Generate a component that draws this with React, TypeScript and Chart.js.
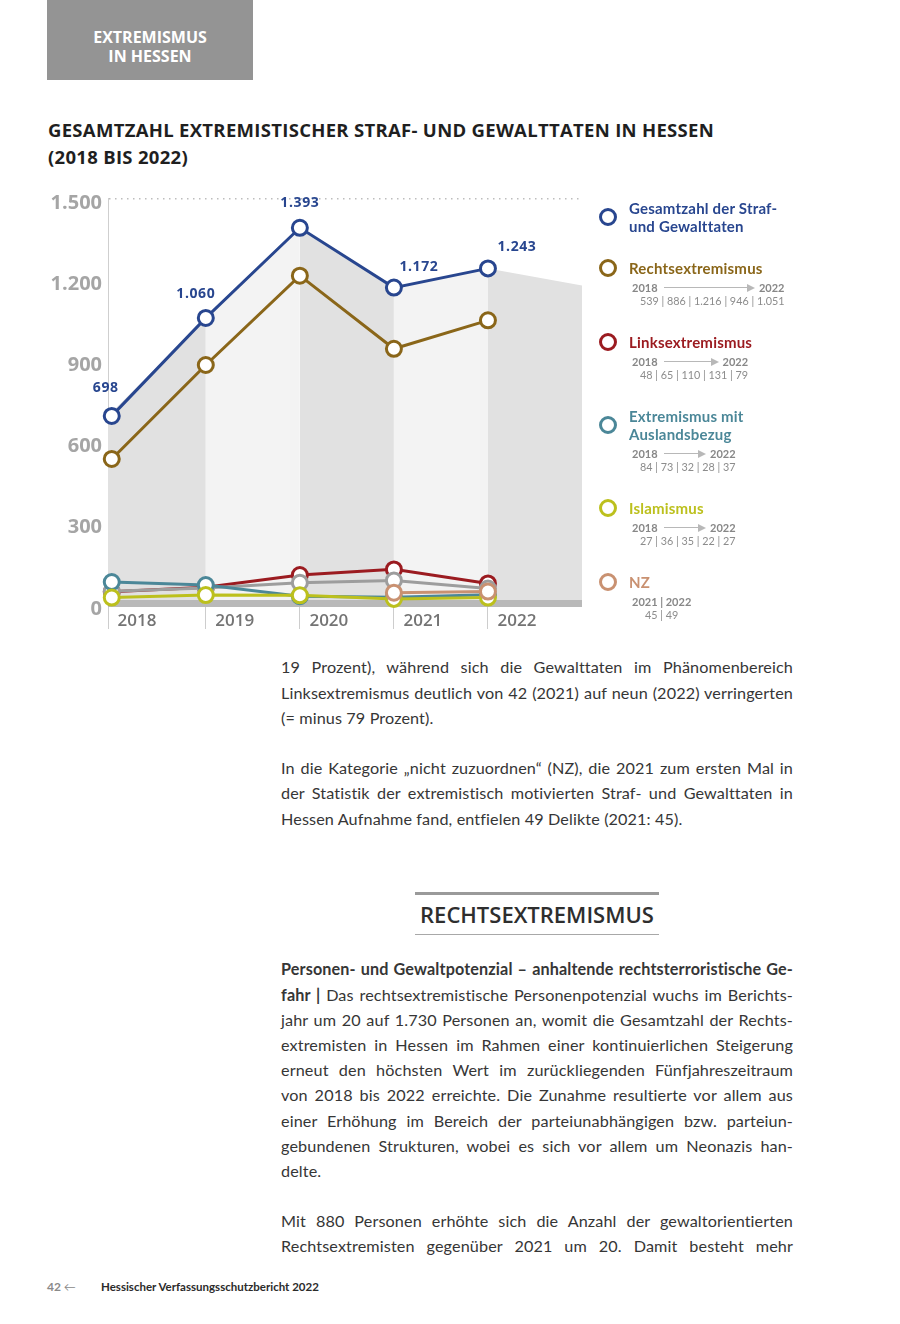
import React, { useEffect, useRef } from 'react';
import { Chart, registerables } from 'chart.js';

Chart.register(...registerables);

// ---------------- data ----------------
const years = [2018, 2019, 2020, 2021, 2022];
const yearLabels = ['2018', '2019', '2020', '2021', '2022'];
const gesamt = [698, 1060, 1393, 1172, 1243];
const rechts = [539, 886, 1216, 946, 1051];
const links = [48, 65, 110, 131, 79];
const ausland = [84, 73, 32, 28, 37];
const islamismus = [27, 36, 35, 22, 27];
const nz: (number | null)[] = [null, null, null, 45, 49];
const nzYears = ['2021', '2022'];
const nzValues = [45, 49];
const sonstige = [50, 62, 82, 90, 60];
const yTickValues = [0, 300, 600, 900, 1200, 1500];
const backdropEnd = 1180;
const baseBand = 18;

// ---------------- scale / style constants ----------------
const X_MIN = 2017.96;
const X_MAX = 2023;
const Y_MIN = -8;
const Y_MAX = 1503;

const COLORS = {
  gesamt: '#28468f',
  rechts: '#8a6619',
  links: '#9b1b20',
  ausland: '#4b8798',
  islam: '#bcc01d',
  nz: '#c99171',
  sonstige: '#9d9d9d',
};

const labelDx = [-6, -10, 0, 25, 29];
const labelDy = [-28, -24, -25, -21, -21];

const fmt = (n: number) => String(n).replace(/\B(?=(\d{3})+(?!\d))/g, '.');

const FONT_UI = '"Open Sans", "DejaVu Sans", sans-serif';
const FONT_BODY = 'Lato, "Open Sans", sans-serif';

const totalLabels = {
  id: 'totalLabels',
  afterDatasetsDraw(chart: any) {
    const idx = chart.data.datasets.findIndex((d: any) => d.label === 'Gesamtzahl der Straf- und Gewalttaten');
    if (idx < 0) return;
    const meta = chart.getDatasetMeta(idx);
    const ctx = chart.ctx;
    ctx.save();
    ctx.font = '700 14px ' + FONT_UI;
    ctx.fillStyle = COLORS.gesamt;
    ctx.textAlign = 'center';
    ctx.textBaseline = 'middle';
    try { (ctx as any).letterSpacing = '0.6px'; } catch (e) {}
    meta.data.forEach((pt: any, i: number) => {
      ctx.fillText(fmt(gesamt[i]), pt.x + labelDx[i], pt.y + labelDy[i]);
    });
    ctx.restore();
  },
};

function toXY(arr: (number | null)[]) {
  return years.map((x, i) => ({ x, y: arr[i] }));
}

function ChartCanvas() {
  const ref = useRef<HTMLCanvasElement>(null);
  useEffect(() => {
    if (!ref.current) return;
    const series = [
      { label: 'NZ', data: nz, color: COLORS.nz },
      { label: 'Islamismus', data: islamismus, color: COLORS.islam },
      { label: 'Extremismus mit Auslandsbezug', data: ausland, color: COLORS.ausland },
      { label: 'Sonstige', data: sonstige, color: COLORS.sonstige },
      { label: 'Linksextremismus', data: links, color: COLORS.links },
      { label: 'Rechtsextremismus', data: rechts, color: COLORS.rechts },
      { label: 'Gesamtzahl der Straf- und Gewalttaten', data: gesamt, color: COLORS.gesamt },
    ];
    const lineSets = series.map((s, i) => ({
      label: s.label,
      data: toXY(s.data),
      borderColor: s.color,
      backgroundColor: '#ffffff',
      borderWidth: 3,
      pointRadius: 7.5,
      pointHoverRadius: 7.5,
      pointBorderWidth: 3,
      pointBackgroundColor: '#ffffff',
      pointBorderColor: s.color,
      fill: false,
      tension: 0,
      clip: false as any,
      order: i,
    }));
    const backdropData = [
      { x: X_MIN, y: gesamt[0] },
      ...years.slice(1).map((x, i) => ({ x, y: gesamt[i + 1] })),
      { x: X_MAX, y: backdropEnd },
    ];
    const backdrop = {
      label: 'backdrop',
      data: backdropData,
      borderWidth: 0,
      borderColor: 'rgba(0,0,0,0)',
      pointRadius: 0,
      fill: 'origin',
      backgroundColor: '#e2e2e2',
      segment: {
        backgroundColor: (c: any) => (c.p0DataIndex % 2 ? '#f3f3f3' : '#e1e1e1'),
      },
      tension: 0,
      order: 100,
    };
    const band = {
      label: 'band',
      data: [
        { x: X_MIN, y: baseBand },
        { x: X_MAX, y: baseBand },
      ],
      borderWidth: 0,
      borderColor: 'rgba(0,0,0,0)',
      pointRadius: 0,
      fill: 'start',
      backgroundColor: '#b9b9b9',
      tension: 0,
      order: 99,
    };
    const chart = new Chart(ref.current, {
      type: 'line',
      data: { datasets: [...lineSets, band, backdrop] as any },
      options: {
        responsive: false,
        maintainAspectRatio: false,
        animation: false,
        layout: { padding: { top: 17, right: 18, bottom: 0, left: 0 } },
        plugins: {
          legend: { display: false },
          tooltip: { enabled: false },
        },
        scales: {
          x: {
            type: 'linear',
            min: X_MIN,
            max: X_MAX,
            afterBuildTicks: (s: any) => {
              s.ticks = [X_MIN, ...years.slice(1)].map((v) => ({ value: v }));
            },
            afterFit: (s: any) => {
              s.height = 33;
            },
            grid: { drawOnChartArea: false, drawTicks: true, tickLength: 22, color: '#cdcdcd', lineWidth: 1 },
            border: { display: false },
            ticks: {
              callback: (_v: any, i: number) => yearLabels[i],
              labelOffset: 29,
              padding: -18,
              autoSkip: false,
              maxRotation: 0,
              color: '#747474',
              font: { family: FONT_UI, size: 17, weight: '600' },
            },
          },
          y: {
            min: Y_MIN,
            max: Y_MAX,
            afterBuildTicks: (s: any) => {
              s.ticks = yTickValues.map((v) => ({ value: v }));
            },
            afterFit: (s: any) => {
              s.width = 68;
            },
            grid: {
              drawTicks: false,
              color: (c: any) => (c.tick && c.tick.value === 1500 ? '#bdbdbd' : 'rgba(0,0,0,0)'),
              lineWidth: 1.5,
            },
            border: { display: true, color: '#cfcfcf', width: 1, dash: [1.5, 4.5] },
            ticks: {
              callback: (v: any) => fmt(Number(v)),
              padding: 6,
              labelOffset: 4,
              color: '#a5a5a5',
              font: { family: FONT_UI, size: 20, weight: '700' },
            },
          },
        },
      } as any,
      plugins: [totalLabels],
    });
    return () => chart.destroy();
  }, []);
  return (
    <canvas
      ref={ref}
      width={560}
      height={460}
      style={{ position: 'absolute', left: 40, top: 180, width: 560, height: 460 }}
    />
  );
}

// ---------------- legend ----------------
type LegendItem = {
  lines: string[];
  color: string;
  top: number;
  from?: string;
  to?: string;
  values?: number[];
  pair?: string[];
};

const legendItems: LegendItem[] = [
  { lines: ['Gesamtzahl der Straf-', 'und Gewalttaten'], color: COLORS.gesamt, top: 199 },
  { lines: ['Rechtsextremismus'], color: COLORS.rechts, top: 259, from: '2018', to: '2022', values: rechts },
  { lines: ['Linksextremismus'], color: COLORS.links, top: 333, from: '2018', to: '2022', values: links },
  { lines: ['Extremismus mit', 'Auslandsbezug'], color: COLORS.ausland, top: 407, from: '2018', to: '2022', values: ausland },
  { lines: ['Islamismus'], color: COLORS.islam, top: 499, from: '2018', to: '2022', values: islamismus },
  { lines: ['NZ'], color: COLORS.nz, top: 573, pair: nzYears, values: nzValues },
];

function Legend() {
  return (
    <>
      {legendItems.map((it, k) => (
        <div key={k} style={{ position: 'absolute', left: 599, top: it.top, display: 'flex', alignItems: 'flex-start' }}>
          <div
            style={{
              width: 18,
              height: 18,
              boxSizing: 'border-box',
              border: `3px solid ${it.color}`,
              borderRadius: '50%',
              marginTop: it.lines.length > 1 ? 9 : 0,
              flex: '0 0 auto',
            }}
          />
          <div style={{ marginLeft: 12 }}>
            {it.lines.map((l, j) => (
              <div key={j} style={{ font: `700 15px ${FONT_BODY}`, lineHeight: '18px', color: it.color, whiteSpace: 'nowrap', letterSpacing: 0.2 }}>
                {l}
              </div>
            ))}
            {it.values && (
              <div style={{ display: 'inline-block', marginLeft: 3, marginTop: 4 }}>
                {it.from ? (
                  <div style={{ display: 'flex', alignItems: 'center', font: `700 11px ${FONT_BODY}`, lineHeight: '13px', color: '#878787' }}>
                    <span>{it.from}</span>
                    <span style={{ flex: 1, position: 'relative', height: 1, background: '#b8b8b8', margin: '0 6px 0 6px' }}>
                      <span
                        style={{
                          position: 'absolute',
                          right: -2,
                          top: -3.5,
                          width: 0,
                          height: 0,
                          borderTop: '4px solid transparent',
                          borderBottom: '4px solid transparent',
                          borderLeft: '8px solid #b8b8b8',
                        }}
                      />
                    </span>
                    <span>{it.to}</span>
                  </div>
                ) : (
                  <div style={{ font: `700 11px ${FONT_BODY}`, lineHeight: '13px', color: '#878787', whiteSpace: 'nowrap' }}>
                    {(it.pair || []).join(' | ')}
                  </div>
                )}
                <div
                  style={{
                    font: `400 10.8px ${FONT_BODY}`,
                    lineHeight: '13px',
                    color: '#8c8c8c',
                    paddingLeft: it.from ? 8 : 13,
                    whiteSpace: 'nowrap',
                  }}
                >
                  {it.values.map(fmt).join(' | ')}
                </div>
              </div>
            )}
          </div>
        </div>
      ))}
    </>
  );
}

// ---------------- text ----------------
const LH = 25.2;

function Line({ children, justify = true }: { children: any; justify?: boolean }) {
  return (
    <div
      style={{
        height: LH,
        lineHeight: LH + 'px',
        textAlign: justify ? 'justify' : 'left',
        textAlignLast: justify ? 'justify' : 'left',
        whiteSpace: 'nowrap',
      } as any}
    >
      {children}
    </div>
  );
}

const bodyStyle: any = {
  position: 'absolute',
  left: 281,
  width: 512,
  font: `400 16.2px ${FONT_BODY}`,
  letterSpacing: 0.12,
  color: '#363636',
};

export default function App() {
  return (
    <div style={{ position: 'absolute', left: 0, top: 0, width: 900, height: 1324, background: '#ffffff', overflow: 'hidden', fontFamily: FONT_BODY }}>
      {/* header tab */}
      <div
        style={{
          position: 'absolute',
          left: 47,
          top: 0,
          width: 206,
          height: 80,
          background: '#949494',
          color: '#ffffff',
          font: `700 16px ${FONT_UI}`,
          lineHeight: '19px',
          textAlign: 'center',
          boxSizing: 'border-box',
          paddingTop: 28,
        }}
      >
        <div>EXTREMISMUS</div>
        <div>IN HESSEN</div>
      </div>

      {/* chart title */}
      <div
        style={{
          position: 'absolute',
          left: 48,
          top: 116,
          font: `700 18.5px ${FONT_UI}`,
          lineHeight: '27px',
          color: '#1f1f1f',
          letterSpacing: 0.3,
          whiteSpace: 'nowrap',
        }}
      >
        <div>GESAMTZAHL EXTREMISTISCHER STRAF- UND GEWALTTATEN IN HESSEN</div>
        <div>(2018 BIS 2022)</div>
      </div>

      <ChartCanvas />
      <Legend />

      {/* body text part 1 */}
      <div style={{ ...bodyStyle, top: 667 - LH / 2 }}>
        <Line>19 Prozent), während sich die Gewalttaten im Phänomenbereich</Line>
        <Line>Linksextremismus deutlich von 42 (2021) auf neun (2022) verringerten</Line>
        <Line justify={false}>(= minus 79 Prozent).</Line>
        <Line justify={false}>{'\u00a0'}</Line>
        <Line>In die Kategorie „nicht zuzuordnen“ (NZ), die 2021 zum ersten Mal in</Line>
        <Line>der Statistik der extremistisch motivierten Straf- und Gewalttaten in</Line>
        <Line justify={false}>Hessen Aufnahme fand, entfielen 49 Delikte (2021: 45).</Line>
      </div>

      {/* section heading */}
      <div style={{ position: 'absolute', left: 415, top: 892, width: 244, height: 3, background: '#9a9a9a' }} />
      <div
        style={{
          position: 'absolute',
          left: 395,
          width: 284,
          top: 899,
          textAlign: 'center',
          font: `600 22px ${FONT_UI}`,
          lineHeight: '30px',
          color: '#2e2e2e',
        }}
      >
        RECHTSEXTREMISMUS
      </div>
      <div style={{ position: 'absolute', left: 415, top: 934, width: 244, height: 1, background: '#a8a8a8' }} />

      {/* body text part 2 */}
      <div style={{ ...bodyStyle, top: 969 - LH / 2 }}>
        <Line>
          <b style={{ fontWeight: 700 }}>Personen- und Gewaltpotenzial – anhaltende rechtsterroristische Ge-</b>
        </Line>
        <Line>
          <b style={{ fontWeight: 700 }}>fahr |</b> Das rechtsextremistische Personenpotenzial wuchs im Berichts-
        </Line>
        <Line>jahr um 20 auf 1.730 Personen an, womit die Gesamtzahl der Rechts-</Line>
        <Line>extremisten in Hessen im Rahmen einer kontinuierlichen Steigerung</Line>
        <Line>erneut den höchsten Wert im zurückliegenden Fünfjahreszeitraum</Line>
        <Line>von 2018 bis 2022 erreichte. Die Zunahme resultierte vor allem aus</Line>
        <Line>einer Erhöhung im Bereich der parteiunabhängigen bzw. parteiun-</Line>
        <Line>gebundenen Strukturen, wobei es sich vor allem um Neonazis han-</Line>
        <Line justify={false}>delte.</Line>
        <Line justify={false}>{'\u00a0'}</Line>
        <Line>Mit 880 Personen erhöhte sich die Anzahl der gewaltorientierten</Line>
        <Line>Rechtsextremisten gegenüber 2021 um 20. Damit besteht mehr</Line>
      </div>

      {/* footer */}
      <div style={{ position: 'absolute', left: 47, top: 1279, font: `700 12px ${FONT_BODY}`, color: '#8a8a8a', lineHeight: '16px', whiteSpace: 'nowrap' }}>
        42 <span style={{ fontWeight: 400 }}>←</span>
      </div>
      <div style={{ position: 'absolute', left: 101, top: 1279, font: `700 11.5px ${FONT_BODY}`, color: '#2b2b2b', lineHeight: '16px', whiteSpace: 'nowrap' }}>
        Hessischer Verfassungsschutzbericht 2022
      </div>
    </div>
  );
}
